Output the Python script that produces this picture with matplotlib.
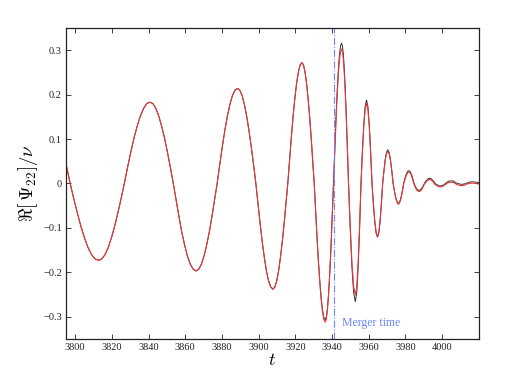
import numpy as np
import matplotlib
matplotlib.use("Agg")
import matplotlib.pyplot as plt
from matplotlib.ticker import FuncFormatter

# ── Data (t, Re[Psi22]/nu) ────────────────────────────────────────────────────
# inspiral part: both waveforms overlap here
t_early = [3795.0, 3796.2, 3797.3,
           3799.24, 3801.18, 3803.11, 3805.05, 3806.99, 3808.93, 3810.86, 3812.8,
           3814.55, 3816.3, 3818.05, 3819.8, 3821.55, 3823.3, 3825.05, 3826.8,
           3828.55, 3830.3, 3832.05, 3833.8, 3835.55, 3837.3, 3839.05, 3840.8,
           3842.39, 3843.98, 3845.56, 3847.15, 3848.74, 3850.33, 3851.91, 3853.5,
           3855.05, 3856.6, 3858.15, 3859.7, 3861.25, 3862.8, 3864.35, 3865.9,
           3867.34, 3868.78, 3870.21, 3871.65, 3873.09, 3874.53, 3875.96, 3877.4,
           3878.79, 3880.18, 3881.56, 3882.95, 3884.34, 3885.73, 3887.11, 3888.5,
           3889.75, 3891.0, 3892.25, 3893.5, 3894.75, 3896.0, 3897.25, 3898.5,
           3899.66, 3900.83, 3901.99, 3903.15, 3904.31, 3905.48, 3906.64, 3907.8,
           3908.81, 3909.83, 3910.84, 3911.85, 3912.86, 3913.88, 3914.89, 3915.9,
           3916.86, 3917.83, 3918.79, 3919.75, 3920.71, 3921.68, 3922.64, 3923.6,
           3924.44, 3925.28, 3926.11, 3926.95, 3927.79, 3928.63, 3929.46, 3930.3]
psi_early = [0.044, 0.021, 0.0,
             -0.034, -0.066, -0.096, -0.122, -0.144, -0.160, -0.170, -0.173,
             -0.170, -0.160, -0.144, -0.122, -0.096, -0.066, -0.034, 0.0,
             0.036, 0.070, 0.102, 0.129, 0.152, 0.169, 0.180, 0.183,
             0.180, 0.169, 0.152, 0.129, 0.102, 0.070, 0.036, 0.0,
             -0.038, -0.075, -0.110, -0.139, -0.164, -0.182, -0.193, -0.197,
             -0.193, -0.182, -0.164, -0.139, -0.110, -0.075, -0.038, 0.0,
             0.042, 0.082, 0.119, 0.151, 0.178, 0.198, 0.210, 0.214,
             0.210, 0.198, 0.178, 0.151, 0.119, 0.082, 0.042, 0.0,
             -0.046, -0.091, -0.132, -0.168, -0.198, -0.220, -0.233, -0.238,
             -0.233, -0.220, -0.198, -0.168, -0.132, -0.091, -0.046, 0.0,
             0.053, 0.104, 0.151, 0.192, 0.226, 0.251, 0.267, 0.272,
             0.267, 0.251, 0.226, 0.192, 0.151, 0.104, 0.053, 0.0]

# merger / ringdown part: the two waveforms differ slightly
t_late = [3931.05, 3931.8, 3932.55, 3933.3, 3934.05, 3934.8, 3935.55, 3936.3,
          3936.86, 3937.43, 3937.99, 3938.55, 3939.11, 3939.68, 3940.24, 3940.8,
          3941.35, 3941.9, 3942.45, 3943.0, 3943.55, 3944.1, 3944.65, 3945.2,
          3945.68, 3946.15, 3946.63, 3947.1, 3947.58, 3948.05, 3948.53, 3949.0,
          3949.93, 3950.85, 3951.78, 3952.7, 3953.48, 3954.25, 3955.03, 3955.8,
          3956.55, 3957.3, 3958.05, 3958.8, 3959.55, 3960.3, 3961.05, 3961.8,
          3962.55, 3963.3, 3964.05, 3964.8, 3965.5, 3966.2, 3966.9, 3967.6,
          3968.3, 3969.0, 3969.7, 3970.4, 3971.13, 3971.85, 3972.58, 3973.3,
          3974.03, 3974.75, 3975.48, 3976.2, 3976.91, 3977.63, 3978.34, 3979.05,
          3979.76, 3980.48, 3981.19, 3981.9, 3982.59, 3983.28, 3983.96, 3984.65,
          3985.34, 3986.03, 3986.71, 3987.4, 3988.13, 3988.85, 3989.58, 3990.3,
          3991.03, 3991.75, 3992.48, 3993.2, 3993.93, 3994.65, 3995.38, 3996.1,
          3996.83, 3997.55, 3998.28, 3999.0, 4000.5, 4001.95, 4003.4, 4004.9,
          4006.4, 4007.85, 4009.3, 4010.8, 4012.2, 4013.55, 4014.9, 4016.3,
          4018.0, 4020.0]
psi_red_late = [-0.061, -0.120, -0.174, -0.221, -0.259, -0.288, -0.306, -0.312,
                -0.306, -0.288, -0.259, -0.221, -0.174, -0.120, -0.061, 0.0,
                0.059, 0.116, 0.169, 0.214, 0.252, 0.280, 0.297, 0.303,
                0.297, 0.280, 0.252, 0.214, 0.169, 0.116, 0.059, 0.0,
                -0.096, -0.177, -0.232, -0.251, -0.232, -0.177, -0.096, 0.0,
                0.069, 0.128, 0.167, 0.181, 0.167, 0.128, 0.069, 0.0,
                -0.046, -0.084, -0.110, -0.119, -0.110, -0.084, -0.046, 0.0,
                0.028, 0.052, 0.067, 0.073, 0.067, 0.052, 0.028, 0.0,
                -0.018, -0.033, -0.043, -0.047, -0.043, -0.033, -0.018, -0.001,
                0.009, 0.018, 0.024, 0.026, 0.024, 0.018, 0.009, -0.001,
                -0.008, -0.014, -0.017, -0.018, -0.017, -0.014, -0.008, -0.002,
                0.002, 0.006, 0.008, 0.009, 0.008, 0.006, 0.002, -0.002,
                -0.004, -0.006, -0.0075, -0.008, -0.006, -0.002, 0.002, 0.003,
                0.002, -0.002, -0.004, -0.005, -0.004, -0.001, 0.0, 0.001,
                0.0, -0.001]
psi_black_late = [-0.060, -0.118, -0.171, -0.217, -0.255, -0.284, -0.301, -0.307,
                  -0.301, -0.284, -0.255, -0.217, -0.171, -0.118, -0.060, 0.0,
                  0.062, 0.121, 0.176, 0.223, 0.263, 0.292, 0.310, 0.316,
                  0.310, 0.292, 0.263, 0.223, 0.176, 0.121, 0.062, 0.0,
                  -0.102, -0.188, -0.246, -0.266, -0.246, -0.188, -0.102, 0.0,
                  0.072, 0.133, 0.174, 0.188, 0.174, 0.133, 0.072, 0.0,
                  -0.046, -0.086, -0.112, -0.121, -0.112, -0.086, -0.046, 0.0,
                  0.029, 0.054, 0.070, 0.076, 0.070, 0.054, 0.029, 0.001,
                  -0.017, -0.032, -0.041, -0.045, -0.041, -0.031, -0.016, 0.001,
                  0.012, 0.021, 0.027, 0.029, 0.027, 0.021, 0.012, 0.001,
                  -0.006, -0.011, -0.014, -0.016, -0.014, -0.011, -0.006, 0.0,
                  0.005, 0.008, 0.011, 0.012, 0.011, 0.008, 0.005, 0.001,
                  -0.002, -0.0035, -0.005, -0.0055, -0.004, 0.0005, 0.005, 0.006,
                  0.005, 0.001, -0.001, -0.002, -0.001, 0.001, 0.003, 0.004,
                  0.003, 0.002]

t_merger = 3941.2
x_ticks = [3800, 3820, 3840, 3860, 3880, 3900, 3920, 3940, 3960, 3980, 4000]
y_ticks = [-0.3, -0.2, -0.1, 0.0, 0.1, 0.2, 0.3]

t_all = t_early + t_late
red_all = psi_early + psi_red_late
black_all = psi_early + psi_black_late

# ── Figure ────────────────────────────────────────────────────────────────────
plt.rcParams["font.family"] = ["Liberation Serif", "DejaVu Serif"]
plt.rcParams["mathtext.fontset"] = "cm"

fig = plt.figure(figsize=(5.32, 3.82), dpi=100)
ax = fig.add_axes([0.124, 0.1126, 0.776, 0.8141])

ax.plot(t_all, black_all, color="#333333", linewidth=0.7)
ax.plot(t_all, red_all, color="#e8383a", linewidth=0.8)

ax.axvline(t_merger, color="#6a86ff", linewidth=0.8, linestyle="-.")
ax.text(t_merger + 4.2, -0.313, "Merger time", color="#6a86ff",
        fontsize=8.5, va="center", ha="left")

ax.set_xlim(3795, 4020)
ax.set_ylim(-0.35, 0.35)
ax.set_xticks(x_ticks)
ax.set_yticks(y_ticks)
ax.yaxis.set_major_formatter(FuncFormatter(
    lambda v, p: ("%g" % round(v, 2)).replace("-", "\u2212")))

ax.tick_params(direction="in", top=True, right=True, labelsize=7.5,
               length=3.5, width=0.6, pad=3, colors="#222222")
for s in ax.spines.values():
    s.set_linewidth(0.9)
    s.set_color("#222222")

ax.set_xlabel(r"$t$", fontsize=13, labelpad=0)
ax.set_ylabel(r"$\Re[\,\Psi_{22}]/\nu$", fontsize=13.5, labelpad=2)

fig.savefig("out.png", dpi=100)
